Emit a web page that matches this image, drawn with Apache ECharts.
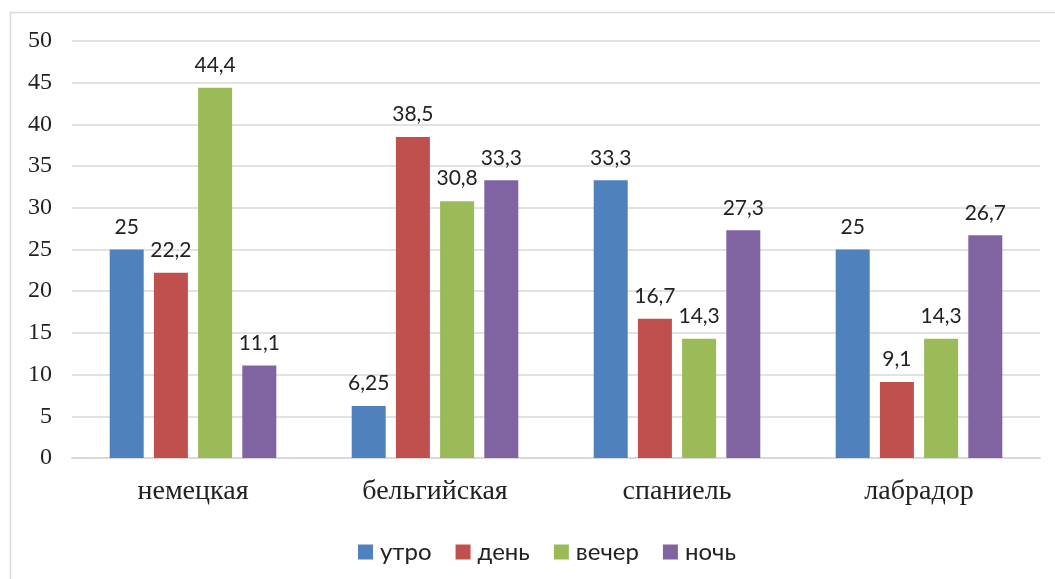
<!DOCTYPE html>
<html>
<head>
<meta charset="utf-8">
<script src="https://cdn.jsdelivr.net/npm/echarts@6/dist/echarts.min.js"></script>
<style>
html,body{margin:0;padding:0;background:#fff;}
#chart{width:1055px;height:579px;}
</style>
</head>
<body>
<div id="chart"></div>
<script>
var categories = ['немецкая', 'бельгийская', 'спаниель', 'лабрадор'];
var seriesNames = ['утро', 'день', 'вечер', 'ночь'];
var morning = [25, 6.25, 33.3, 25];
var day = [22.2, 38.5, 16.7, 9.1];
var evening = [44.4, 30.8, 14.3, 14.3];
var night = [11.1, 33.3, 27.3, 26.7];
var colors = ['#4F81BD', '#C0504D', '#9BBB59', '#8064A2'];

function makeSeries(name, data, color){
    return {
        name: name,
        type: 'bar',
        data: data,
        barWidth: 34,
        barGap: '30%',
        barCategoryGap: '31%',
        itemStyle: { color: color },
        label: {
            show: true,
            position: 'top',
            distance: 12,
            fontFamily: 'Lato',
            fontSize: 21,
            color: '#222',
            formatter: function(p){ return String(p.value).replace('.', ','); }
        }
    };
}

var option = {
    animation: false,
    backgroundColor: '#fff',
    graphic: [{
        type: 'rect',
        shape: { x: 10.5, y: 12.5, width: 1100, height: 600 },
        style: { fill: 'none', stroke: '#D9D9D9', lineWidth: 1.5 },
        silent: true
    }],
    grid: { left: 72, right: 15, top: 41, bottom: 121 },
    legend: {
        data: seriesNames,
        left: 353,
        top: 535,
        itemWidth: 15,
        itemHeight: 15,
        itemGap: 24,
        icon: 'rect',
        textStyle: { fontFamily: 'Lato', fontSize: 24, color: '#222', padding: [0, 0, 0, 2] }
    },
    xAxis: {
        type: 'category',
        data: categories,
        axisLine: { show: true, lineStyle: { color: '#D9D9D9', width: 2 } },
        axisTick: { show: false },
        axisLabel: { fontFamily: 'Liberation Serif', fontSize: 28, color: '#222', margin: 20 }
    },
    yAxis: {
        type: 'value',
        min: 0,
        max: 50,
        interval: 5,
        axisLine: { show: false },
        axisTick: { show: false },
        splitLine: { lineStyle: { color: '#D9D9D9', width: 1.5 } },
        axisLabel: { fontFamily: 'Liberation Serif', fontSize: 24, color: '#222', margin: 20 }
    },
    series: [
        makeSeries(seriesNames[0], morning, colors[0]),
        makeSeries(seriesNames[1], day, colors[1]),
        makeSeries(seriesNames[2], evening, colors[2]),
        makeSeries(seriesNames[3], night, colors[3])
    ]
};

echarts.init(document.getElementById('chart')).setOption(option);
</script>
</body>
</html>
